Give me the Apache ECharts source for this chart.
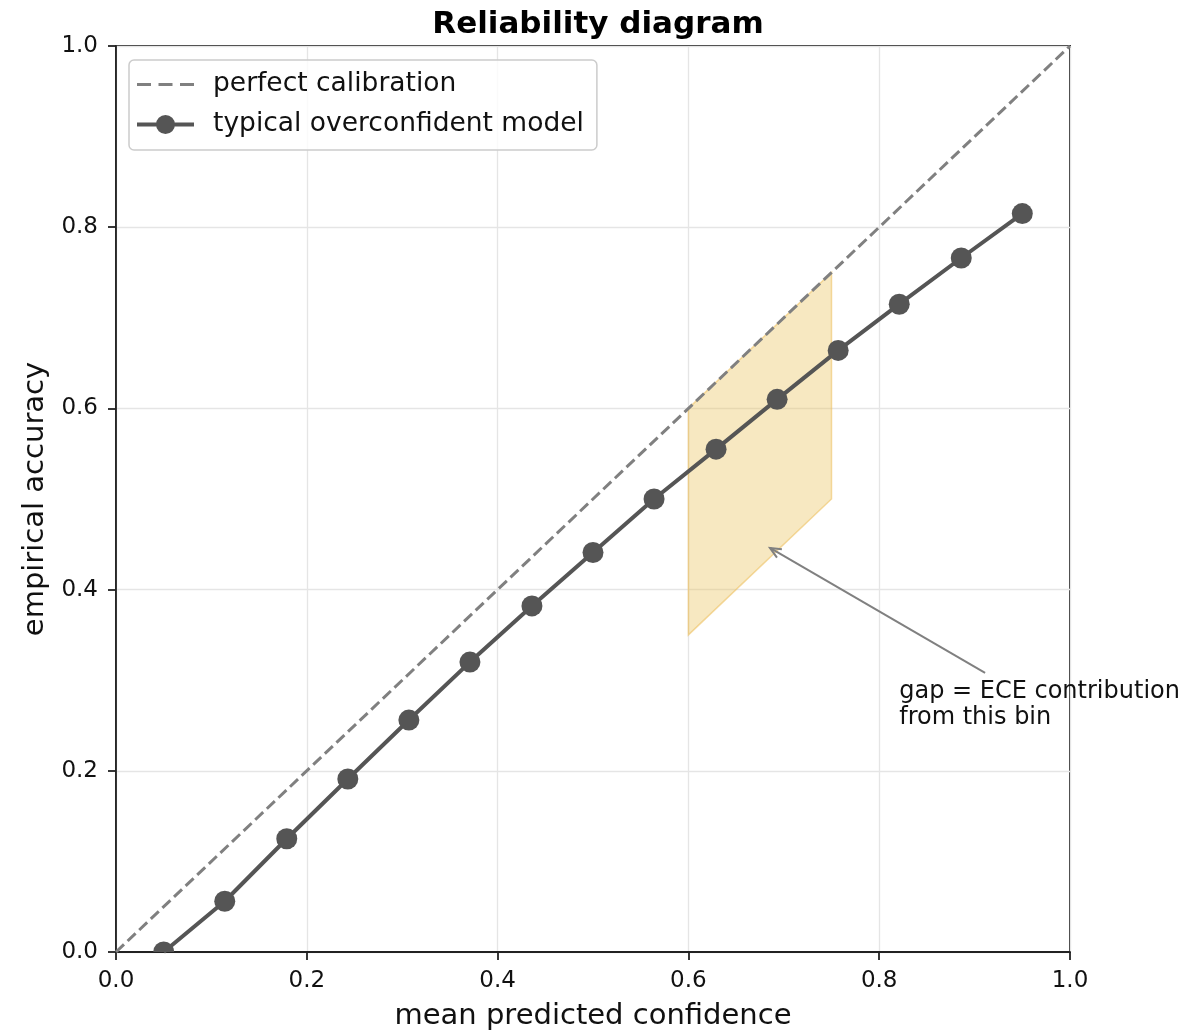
<!DOCTYPE html>
<html>
<head>
<meta charset="utf-8">
<script src="https://cdn.jsdelivr.net/npm/echarts@6/dist/echarts.min.js"></script>
<style>html,body{margin:0;padding:0;background:#fff;}#c{width:1201px;height:1031px;}</style>
</head>
<body>
<div id="c"></div>
<script>
var confidence = [0.05, 0.114, 0.179, 0.243, 0.307, 0.371, 0.436, 0.5, 0.564, 0.629, 0.693, 0.757, 0.821, 0.886, 0.95];
var accuracy = [0.0, 0.056, 0.125, 0.191, 0.256, 0.320, 0.382, 0.441, 0.500, 0.555, 0.610, 0.664, 0.715, 0.766, 0.815];
var diagonal = [[0, 0], [1, 1]];
var gapPolygon = [[0.6, 0.6], [0.75, 0.75], [0.75, 0.5], [0.6, 0.35]];
var arrowTail = [0.911, 0.308];
var arrowHead = [0.6855, 0.446];
var annotationPos = [0.821, 0.302];
var annotationText = 'gap = ECE contribution\nfrom this bin';
var seriesNames = ['perfect calibration', 'typical overconfident model'];

var FONT = 'DejaVu Sans';
var chart = echarts.init(document.getElementById('c'), null, {renderer: 'canvas'});

var modelData = confidence.map(function (x, i) { return [x, accuracy[i]]; });

var dashIcon = 'path://M0 0L0 0 M0 11.5H14V14.5H0Z M21.5 11.5H35.5V14.5H21.5Z M43 11.5H57V14.5H43Z M57 26L57 26';
var modelIcon = 'path://M0 0L0 0 M0 11H57V15H0Z M28.5 3.5A9.5 9.5 0 1 1 28.5 22.5A9.5 9.5 0 1 1 28.5 3.5Z M57 26L57 26';

chart.setOption({
  animation: false,
  backgroundColor: '#ffffff',
  title: {
    text: 'Reliability diagram',
    left: 593, top: 4, textAlign: 'center',
    textStyle: {fontFamily: FONT, fontSize: 31, fontWeight: 'bold', color: '#000'}
  },
  grid: {left: 116, right: 131, top: 46, bottom: 79, outerBoundsMode: 'none', containLabel: false, show: true, borderColor: '#222', borderWidth: 1.8, backgroundColor: 'transparent'},
  legend: {
    left: 129, top: 60, orient: 'vertical',
    backgroundColor: 'rgba(255,255,255,0.8)',
    borderColor: '#cccccc', borderWidth: 1.5, borderRadius: 5,
    padding: [11, 13, 12, 8],
    itemGap: 13, itemWidth: 57, itemHeight: 26,
    textStyle: {fontFamily: FONT, fontSize: 26.5, color: '#111', padding: [0, 0, 0, 14]},
    data: [
      {name: seriesNames[0], icon: dashIcon, itemStyle: {color: '#808080', borderWidth: 0}},
      {name: seriesNames[1], icon: modelIcon, itemStyle: {color: '#555555', borderWidth: 0}}
    ]
  },
  xAxis: {
    type: 'value', min: 0, max: 1, interval: 0.2,
    name: 'mean predicted confidence', nameLocation: 'middle', nameGap: 50,
    nameTextStyle: {fontFamily: FONT, fontSize: 29, color: '#111'},
    axisLine: {show: true, onZero: false, lineStyle: {color: '#222', width: 1.8}},
    axisTick: {show: true, length: 8, lineStyle: {color: '#222', width: 1.8}},
    axisLabel: {fontFamily: FONT, fontSize: 23, color: '#111', margin: 18, formatter: function (v) { return v.toFixed(1); }},
    splitLine: {show: true, lineStyle: {color: '#e5e5e5', width: 1.3}}
  },
  yAxis: {
    type: 'value', min: 0, max: 1, interval: 0.2,
    name: 'empirical accuracy', nameLocation: 'middle', nameGap: 66,
    nameTextStyle: {fontFamily: FONT, fontSize: 29, color: '#111'},
    axisLine: {show: true, onZero: false, lineStyle: {color: '#222', width: 1.8}},
    axisTick: {show: true, length: 8, lineStyle: {color: '#222', width: 1.8}},
    axisLabel: {fontFamily: FONT, fontSize: 23, color: '#111', margin: 18, formatter: function (v) { return v.toFixed(1); }},
    splitLine: {show: true, lineStyle: {color: '#e5e5e5', width: 1.3}}
  },
  series: [
    {
      type: 'custom', name: 'gap', z: 1, silent: true,
      data: [0],
      renderItem: function (params, api) {
        var pts = gapPolygon.map(function (p) { return api.coord(p); });
        return {
          type: 'polygon',
          shape: {points: pts},
          style: {fill: 'rgba(236,197,100,0.40)', stroke: 'rgba(236,190,90,0.55)', lineWidth: 1.5}
        };
      }
    },
    {
      type: 'line', name: seriesNames[0], z: 2,
      data: diagonal, symbol: 'none', showSymbol: false,
      lineStyle: {color: '#808080', width: 3, type: [11, 5]},
      itemStyle: {color: '#808080'}
    },
    {
      type: 'line', name: seriesNames[1], z: 3,
      data: modelData, symbol: 'none', showSymbol: false,
      lineStyle: {color: '#555555', width: 4},
      itemStyle: {color: '#555555'}
    },
    {
      type: 'custom', name: 'markers', z: 4, silent: true, clip: true,
      data: modelData,
      renderItem: function (params, api) {
        var p = api.coord([api.value(0), api.value(1)]);
        return {type: 'circle', shape: {cx: p[0], cy: p[1], r: 10.5}, style: {fill: '#555555'}};
      }
    },
    {
      type: 'custom', name: 'annotation', z: 5, silent: true,
      data: [0],
      renderItem: function (params, api) {
        var t = api.coord(arrowTail);
        var h = api.coord(arrowHead);
        var ang = Math.atan2(t[1] - h[1], t[0] - h[0]);
        var L = 12, spread = 0.42;
        var a1 = [h[0] + L * Math.cos(ang + spread), h[1] + L * Math.sin(ang + spread)];
        var a2 = [h[0] + L * Math.cos(ang - spread), h[1] + L * Math.sin(ang - spread)];
        var tp = api.coord(annotationPos);
        return {
          type: 'group',
          children: [
            {type: 'line', shape: {x1: t[0], y1: t[1], x2: h[0], y2: h[1]}, style: {stroke: '#808080', lineWidth: 2}},
            {type: 'polyline', shape: {points: [a1, h, a2]}, style: {stroke: '#808080', lineWidth: 2, fill: null}},
            {type: 'text', x: tp[0], y: tp[1], style: {text: annotationText, fontFamily: FONT, fontSize: 24, fill: '#111', lineHeight: 26, align: 'left', verticalAlign: 'top'}}
          ]
        };
      }
    }
  ]
});
</script>
</body>
</html>
